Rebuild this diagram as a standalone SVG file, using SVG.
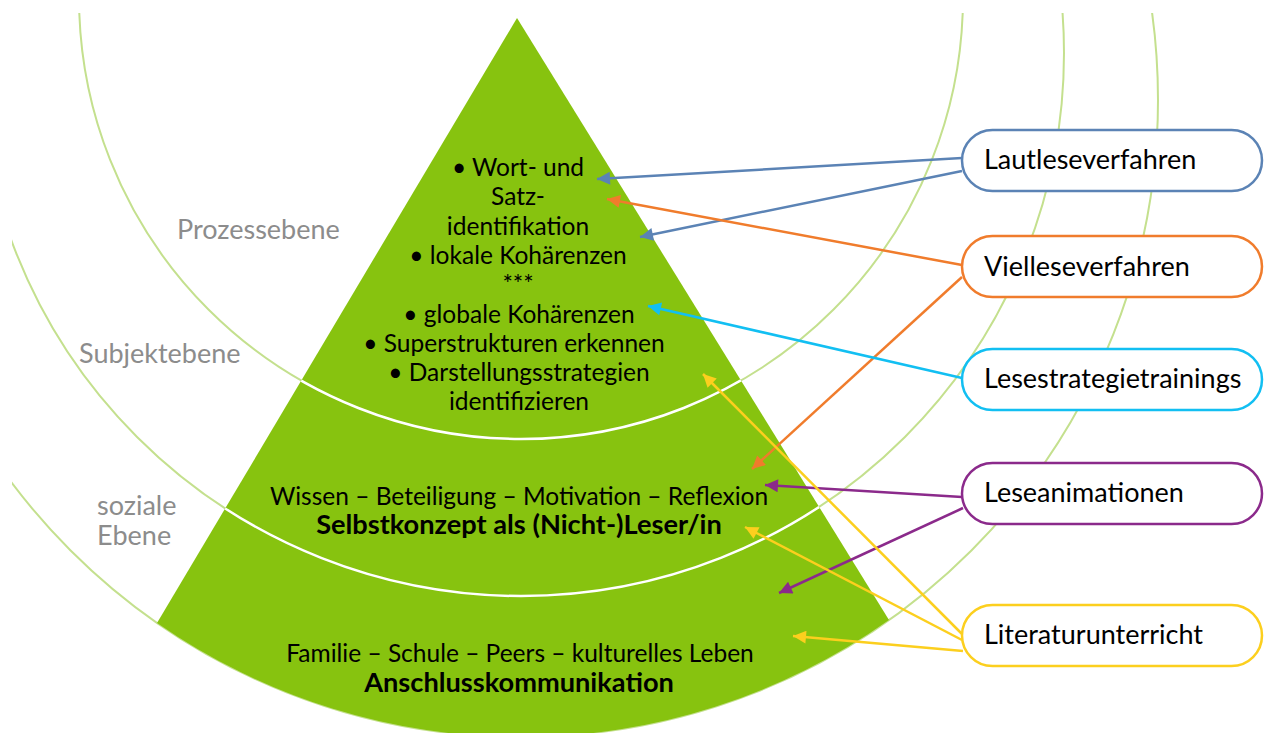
<svg xmlns="http://www.w3.org/2000/svg" width="1264" height="733" viewBox="0 0 1264 733">
<style>
.ring{fill:none;stroke:#c4e08e;stroke-width:2}
.wring{fill:none;stroke:#ffffff;stroke-width:2.5}
.lvl{font-family:Lato,"Liberation Sans",sans-serif;font-size:27px;fill:#8c8c8c}
.pt{font-family:Lato,"Liberation Sans",sans-serif;font-size:24.5px;fill:#000;text-anchor:middle}
.b{font-weight:bold;font-size:27.2px}
.box{fill:#ffffff;stroke-width:2.5}
.bt{font-family:Lato,"Liberation Sans",sans-serif;font-size:27px;fill:#000}
.c{fill:none;stroke-width:2.5}
</style>
<defs>
<clipPath id="area"><rect x="12" y="13" width="1252" height="720"/></clipPath>
<clipPath id="pyr"><path d="M517,18 L889,620 A637,637 0 0 1 157,623 Z"/></clipPath>
<marker id="mBlue" viewBox="0 0 10 10" refX="10" refY="5" markerWidth="17" markerHeight="13" markerUnits="userSpaceOnUse" orient="auto"><path d="M0,0 L10,5 L0,10 z" fill="#5b83b5"/></marker>
<marker id="mOrange" viewBox="0 0 10 10" refX="10" refY="5" markerWidth="17" markerHeight="13" markerUnits="userSpaceOnUse" orient="auto"><path d="M0,0 L10,5 L0,10 z" fill="#f07c2c"/></marker>
<marker id="mCyan" viewBox="0 0 10 10" refX="10" refY="5" markerWidth="17" markerHeight="13" markerUnits="userSpaceOnUse" orient="auto"><path d="M0,0 L10,5 L0,10 z" fill="#12bff2"/></marker>
<marker id="mPurple" viewBox="0 0 10 10" refX="10" refY="5" markerWidth="17" markerHeight="13" markerUnits="userSpaceOnUse" orient="auto"><path d="M0,0 L10,5 L0,10 z" fill="#8b2a8b"/></marker>
<marker id="mYellow" viewBox="0 0 10 10" refX="10" refY="5" markerWidth="17" markerHeight="13" markerUnits="userSpaceOnUse" orient="auto"><path d="M0,0 L10,5 L0,10 z" fill="#fccf1e"/></marker>
</defs>
<rect x="0" y="0" width="1264" height="733" fill="#ffffff"/>
<g id="rings" clip-path="url(#area)">
<circle class="ring" cx="521" cy="-3" r="442"/>
<circle class="ring" cx="521" cy="53" r="543"/>
<circle class="ring" cx="521" cy="100" r="637"/>
</g>
<g id="pyramid">
<path d="M517,18 L889,620 A637,637 0 0 1 157,623 Z" fill="#87c30f"/>
<g clip-path="url(#pyr)">
<circle class="wring" cx="521" cy="-3" r="442"/>
<circle class="wring" cx="521" cy="53" r="543"/>
</g>
</g>
<g id="levels">
<text class="lvl" x="177" y="239">Prozessebene</text>
<text class="lvl" x="79" y="363">Subjektebene</text>
<text class="lvl" x="97" y="515">soziale</text>
<text class="lvl" x="97" y="545">Ebene</text>
</g>
<g id="process-text">
<text class="pt" x="518" y="176">• Wort- und</text>
<text class="pt" x="518" y="205">Satz-</text>
<text class="pt" x="518" y="235">identifikation</text>
<text class="pt" x="518" y="264">• lokale Kohärenzen</text>
<text class="pt" x="518" y="293">***</text>
<text class="pt" x="519" y="323">• globale Kohärenzen</text>
<text class="pt" x="514" y="352">• Superstrukturen erkennen</text>
<text class="pt" x="519" y="381">• Darstellungsstrategien</text>
<text class="pt" x="519" y="410">identifizieren</text>
</g>
<g id="subject-text">
<text class="pt" x="519" y="505">Wissen – Beteiligung – Motivation – Reflexion</text>
<text class="pt b" x="519" y="534">Selbstkonzept als (Nicht-)Leser/in</text>
</g>
<g id="social-text">
<text class="pt" x="520" y="662">Familie – Schule – Peers – kulturelles Leben</text>
<text class="pt b" x="519" y="692">Anschlusskommunikation</text>
</g>
<g id="connectors">
<line class="c" stroke="#5b83b5" x1="962" y1="158" x2="597" y2="179" marker-end="url(#mBlue)"/>
<line class="c" stroke="#5b83b5" x1="962" y1="171" x2="640" y2="237" marker-end="url(#mBlue)"/>
<line class="c" stroke="#f07c2c" x1="962" y1="265" x2="607" y2="199" marker-end="url(#mOrange)"/>
<line class="c" stroke="#f07c2c" x1="962" y1="277" x2="752" y2="469" marker-end="url(#mOrange)"/>
<line class="c" stroke="#12bff2" x1="962" y1="378" x2="648" y2="306" marker-end="url(#mCyan)"/>
<line class="c" stroke="#8b2a8b" x1="962" y1="497" x2="765" y2="485" marker-end="url(#mPurple)"/>
<line class="c" stroke="#8b2a8b" x1="963" y1="508" x2="779" y2="593" marker-end="url(#mPurple)"/>
<line class="c" stroke="#fccf1e" x1="962" y1="634" x2="703" y2="374" marker-end="url(#mYellow)"/>
<line class="c" stroke="#fccf1e" x1="962" y1="640" x2="745" y2="527" marker-end="url(#mYellow)"/>
<line class="c" stroke="#fccf1e" x1="963" y1="651" x2="793" y2="636" marker-end="url(#mYellow)"/>
</g>
<g id="lautleseverfahren">
<rect class="box" stroke="#5b83b5" x="962" y="130" width="300" height="61" rx="30.5"/>
<text class="bt" x="984" y="169">Lautleseverfahren</text>
</g>
<g id="vielleseverfahren">
<rect class="box" stroke="#f07c2c" x="962" y="236" width="300" height="61" rx="30.5"/>
<text class="bt" x="984" y="276">Vielleseverfahren</text>
</g>
<g id="lesestrategietrainings">
<rect class="box" stroke="#12bff2" x="962" y="349" width="300" height="61" rx="30.5"/>
<text class="bt" x="984" y="388">Lesestrategietrainings</text>
</g>
<g id="leseanimationen">
<rect class="box" stroke="#8b2a8b" x="962" y="463" width="300" height="61" rx="30.5"/>
<text class="bt" x="984" y="502">Leseanimationen</text>
</g>
<g id="literaturunterricht">
<rect class="box" stroke="#fccf1e" x="962" y="605" width="300" height="61" rx="30.5"/>
<text class="bt" x="984" y="644">Literaturunterricht</text>
</g>
</svg>
